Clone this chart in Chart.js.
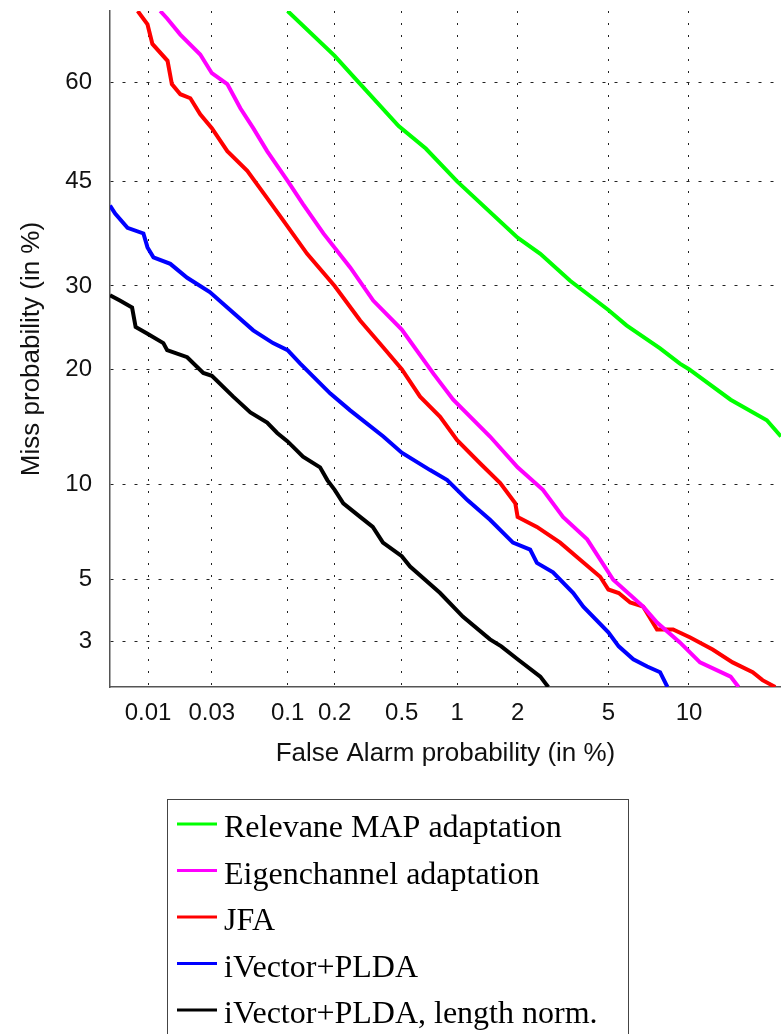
<!DOCTYPE html>
<html>
<head>
<meta charset="utf-8">
<script src="https://cdn.jsdelivr.net/npm/chart.js@4"></script>
<style>
  html, body { margin: 0; padding: 0; background: #fff; }
  canvas { display: block; }
</style>
</head>
<body>
<canvas id="det" width="781" height="1034"></canvas>
<script>
// DET curves, values in percent
const relMapFa   = [0.1, 0.2, 0.27, 0.48, 0.68, 1.0, 2.0, 2.55, 3.46, 5.0, 5.9, 7.9, 9.3, 10, 13.7, 17.6, 19.3];
const relMapMiss = [70, 63.8, 60.4, 53.4, 50, 45, 36.7, 34.4, 30.7, 26.9, 25, 22.3, 20.6, 20, 16.9, 15, 13.6];

const eigFa   = [0.0124, 0.014, 0.0176, 0.0247, 0.03, 0.0387, 0.0478, 0.0587, 0.073, 0.1, 0.126, 0.17, 0.249, 0.342, 0.5, 0.75, 0.954, 1.47, 2.0, 2.62, 3.22, 4.09, 5.23, 6.84, 7.7, 9.3, 10.9, 13.7, 14.5];
const eigMiss = [70, 69, 66.8, 64, 61.3, 59.7, 56.1, 53.1, 49.6, 45.1, 41.6, 37.3, 32.5, 28.1, 24.5, 19.5, 16.9, 13.6, 11.2, 9.65, 8.0, 6.8, 5.0, 4.03, 3.53, 2.98, 2.5, 2.2, 2.0];

const jfaFa   = [0.0083, 0.0099, 0.0108, 0.0141, 0.0152, 0.0176, 0.0209, 0.0247, 0.03, 0.0387, 0.0534, 0.073, 0.0935, 0.134, 0.2, 0.286, 0.392, 0.5, 0.633, 0.813, 1.0, 1.31, 1.65, 1.95, 2.0, 2.46, 3.13, 3.82, 4.63, 5.0, 5.5, 6.1, 6.84, 7.7, 8.8, 10.1, 12, 13.9, 16, 17.1, 18.6];
const jfaMiss = [70, 68.2, 65.5, 63.1, 59.7, 58.2, 57.6, 55.2, 53.1, 49.6, 46.6, 42.5, 39.2, 34.4, 30, 25.6, 22.4, 20, 17.2, 15.3, 13.3, 11.5, 10.1, 8.8, 8.0, 7.45, 6.64, 5.84, 5.12, 4.63, 4.5, 4.17, 4.03, 3.33, 3.33, 3.11, 2.8, 2.5, 2.29, 2.13, 2.0];

const ivFa   = [0.005, 0.0055, 0.0069, 0.0092, 0.0099, 0.011, 0.0148, 0.0198, 0.029, 0.0387, 0.0587, 0.08, 0.1, 0.121, 0.188, 0.249, 0.392, 0.5, 0.718, 0.887, 1.13, 1.47, 1.9, 2.29, 2.46, 2.91, 3.57, 3.94, 5.0, 5.5, 6.27, 7.08, 7.9, 8.4];
const ivMiss = [41.4, 40.2, 38.1, 37.3, 35.3, 33.9, 33.0, 31.1, 29.2, 27.2, 24.4, 22.9, 22.1, 20.6, 17.5, 15.9, 13.6, 12.3, 11.0, 10.3, 9.0, 7.84, 6.64, 6.3, 5.7, 5.3, 4.5, 4.03, 3.25, 2.88, 2.57, 2.41, 2.29, 2.0];

const ivLnFa   = [0.005, 0.006, 0.0075, 0.008, 0.0099, 0.0131, 0.014, 0.0198, 0.026, 0.03, 0.0426, 0.0561, 0.073, 0.0853, 0.1, 0.126, 0.162, 0.18, 0.2, 0.226, 0.286, 0.34, 0.39, 0.5, 0.557, 0.813, 1.07, 1.47, 1.67, 2.0, 2.55, 2.77];
const ivLnMiss = [28.8, 28.1, 27.2, 24.8, 24, 22.9, 22.1, 21.3, 19.6, 19.3, 17.2, 15.7, 14.8, 13.9, 13.2, 12, 11.2, 10.3, 9.65, 8.8, 8, 7.45, 6.64, 6.0, 5.54, 4.5, 3.71, 3.06, 2.88, 2.57, 2.2, 2.0];

const seriesNames  = ['Relevane MAP adaptation', 'Eigenchannel adaptation', 'JFA', 'iVector+PLDA', 'iVector+PLDA, length norm.'];
const seriesColors = ['#00ff00', '#ff00ff', '#ff0000', '#0000ff', '#000000'];

const xTicks = [0.01, 0.03, 0.1, 0.2, 0.5, 1, 2, 5, 10];
const yTicks = [3, 5, 10, 20, 30, 45, 60];
const xRange = [0.005, 19.3];
const yRange = [2, 70];

// inverse normal cdf (Acklam)
function probit(p) {
  const a = [-3.969683028665376e+01, 2.209460984245205e+02, -2.759285104469687e+02, 1.383577518672690e+02, -3.066479806614716e+01, 2.506628277459239e+00];
  const b = [-5.447609879822406e+01, 1.615858368580409e+02, -1.556989798598866e+02, 6.680131188771972e+01, -1.328068155288572e+01];
  const c = [-7.784894002430293e-03, -3.223964580411365e-01, -2.400758277161838e+00, -2.549732539343734e+00, 4.374664141464968e+00, 2.938163982698783e+00];
  const d = [7.784695709041462e-03, 3.224671290700398e-01, 2.445134137142996e+00, 3.754408661907416e+00];
  let q, r;
  if (p < 0.02425) {
    q = Math.sqrt(-2 * Math.log(p));
    return (((((c[0]*q+c[1])*q+c[2])*q+c[3])*q+c[4])*q+c[5]) / ((((d[0]*q+d[1])*q+d[2])*q+d[3])*q+1);
  }
  if (p <= 1 - 0.02425) {
    q = p - 0.5; r = q * q;
    return (((((a[0]*r+a[1])*r+a[2])*r+a[3])*r+a[4])*r+a[5])*q / (((((b[0]*r+b[1])*r+b[2])*r+b[3])*r+b[4])*r+1);
  }
  q = Math.sqrt(-2 * Math.log(1 - p));
  return -(((((c[0]*q+c[1])*q+c[2])*q+c[3])*q+c[4])*q+c[5]) / ((((d[0]*q+d[1])*q+d[2])*q+d[3])*q+1);
}
const pz = v => probit(v / 100);

function toPoints(fa, miss) {
  return fa.map((f, i) => ({ x: pz(f), y: pz(miss[i]) }));
}

const curves = [
  toPoints(relMapFa, relMapMiss),
  toPoints(eigFa, eigMiss),
  toPoints(jfaFa, jfaMiss),
  toPoints(ivFa, ivMiss),
  toPoints(ivLnFa, ivLnMiss)
];

const boxLegend = {
  id: 'boxLegend',
  afterDraw(chart) {
    const ctx = chart.ctx;
    ctx.save();
    ctx.strokeStyle = '#444';
    ctx.lineWidth = 1;
    ctx.strokeRect(167.5, 799.5, 461, 300);
    ctx.font = '32px "Liberation Serif", "Times New Roman", serif';
    ctx.textBaseline = 'alphabetic';
    ctx.fillStyle = '#000';
    chart.data.datasets.forEach((ds, i) => {
      const base = 837 + i * 46.5;
      ctx.strokeStyle = ds.borderColor;
      ctx.lineWidth = 3;
      ctx.beginPath();
      ctx.moveTo(177, base - 13);
      ctx.lineTo(217, base - 13);
      ctx.stroke();
      ctx.fillText(ds.label, 224, base);
    });
    ctx.restore();
  }
};

const tickFont = { family: '"Liberation Sans", Arial, sans-serif', size: 24 };
const titleFont = { family: '"Liberation Sans", Arial, sans-serif', size: 26 };

new Chart(document.getElementById('det'), {
  type: 'line',
  data: {
    datasets: curves.map((pts, i) => ({
      label: seriesNames[i],
      data: pts,
      borderColor: seriesColors[i],
      backgroundColor: seriesColors[i],
      borderWidth: 4,
      pointRadius: 0,
      tension: 0,
      fill: false
    }))
  },
  options: {
    responsive: false,
    animation: false,
    layout: { padding: { top: 11, right: 0, bottom: 265, left: 0 } },
    plugins: { legend: { display: false }, tooltip: { enabled: false } },
    scales: {
      x: {
        type: 'linear',
        min: pz(xRange[0]),
        max: pz(xRange[1]),
        afterBuildTicks: s => { s.ticks = xTicks.map(v => ({ value: pz(v) })); },
        afterFit: s => { s.height = 82; s.paddingLeft = 0; s.paddingRight = 0; },
        ticks: {
          autoSkip: false, maxRotation: 0, padding: 12,
          font: tickFont, color: '#111',
          callback: (v, i) => String(xTicks[i])
        },
        grid: { color: '#222', lineWidth: 1, drawTicks: false },
        border: { display: true, color: '#555', width: 1.5, dash: [2, 10] },
        title: { display: true, text: 'False Alarm probability (in %)', font: titleFont, color: '#111', padding: { top: 0, bottom: 0 } }
      },
      y: {
        type: 'linear',
        min: pz(yRange[0]),
        max: pz(yRange[1]),
        afterBuildTicks: s => { s.ticks = yTicks.map(v => ({ value: pz(v) })); },
        afterFit: s => { s.width = 110; s.paddingTop = 0; s.paddingBottom = 0; },
        ticks: {
          autoSkip: false, padding: 18,
          font: tickFont, color: '#111',
          callback: (v, i) => String(yTicks[i])
        },
        grid: { color: '#222', lineWidth: 1, drawTicks: false },
        border: { display: true, color: '#555', width: 1.5, dash: [3, 9] },
        title: { display: true, text: 'Miss probability (in %)', font: titleFont, color: '#111', padding: { top: 16, bottom: 0 } }
      }
    }
  },
  plugins: [boxLegend]
});
</script>
</body>
</html>
